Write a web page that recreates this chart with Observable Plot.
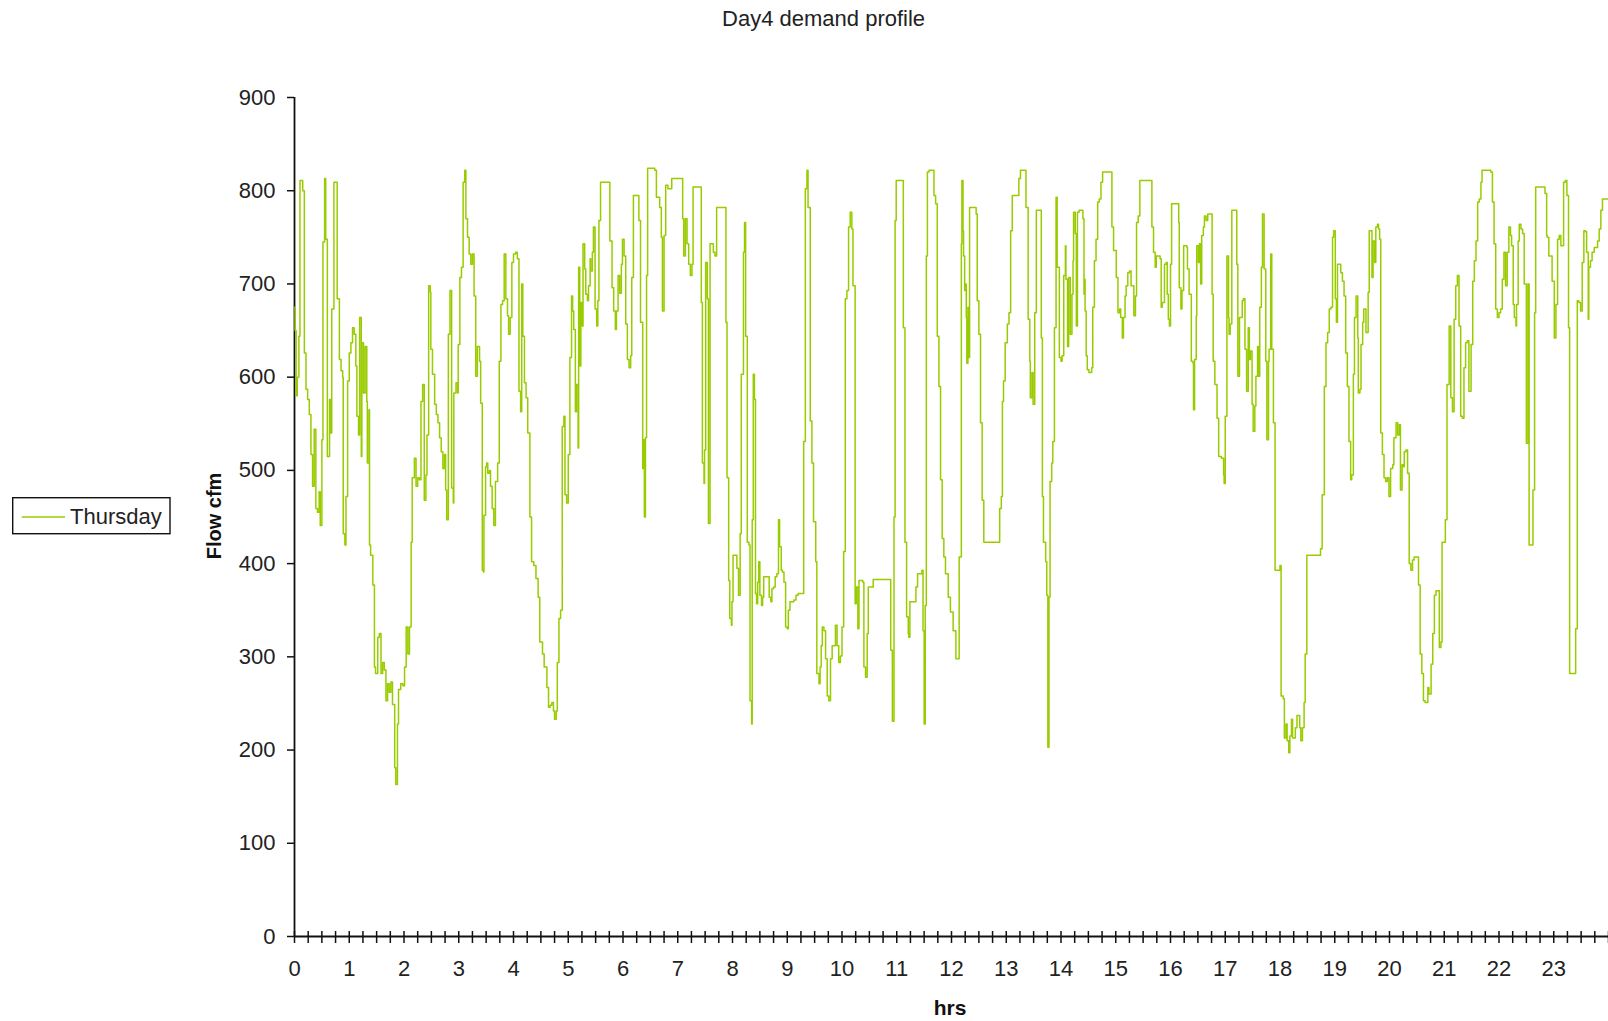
<!DOCTYPE html>
<html>
<head>
<meta charset="utf-8">
<script src="https://cdn.jsdelivr.net/npm/d3@7"></script>
<script src="https://cdn.jsdelivr.net/npm/@observablehq/plot@0.6"></script>
<style>
  html, body { margin: 0; padding: 0; background: #ffffff; }
  #chart { position: relative; width: 1608px; height: 1021px; overflow: hidden; background: #ffffff; }
</style>
</head>
<body>
<div id="chart"></div>
<script>
const chartTitle = "Day4 demand profile";
const seriesName = "Thursday";
const yTitle = "Flow cfm";
const xTitle = "hrs";

const hourTicks = [0,1,2,3,4,5,6,7,8,9,10,11,12,13,14,15,16,17,18,19,20,21,22,23];
const flowTicks = [0,100,200,300,400,500,600,700,800,900];
const quarterTicks = d3.range(0, 24.001, 0.25);

// time of each reading (hours) and the flow (cfm) held from that time on
const hours = [
  0.00,0.01,0.03,0.05,0.08,0.10,0.15,0.18,0.21,0.24,
  0.27,0.30,0.33,0.36,0.39,0.42,0.45,0.47,0.50,0.52,
  0.55,0.57,0.60,0.64,0.66,0.68,0.72,0.78,0.82,0.85,
  0.88,0.89,0.92,0.94,0.97,1.00,1.03,1.06,1.09,1.12,
  1.14,1.17,1.19,1.22,1.23,1.26,1.29,1.32,1.33,1.36,
  1.37,1.39,1.43,1.46,1.48,1.52,1.55,1.58,1.61,1.64,
  1.67,1.70,1.73,1.76,1.79,1.83,1.85,1.88,1.90,1.94,
  1.98,2.01,2.04,2.07,2.10,2.13,2.15,2.19,2.22,2.25,
  2.28,2.31,2.34,2.37,2.40,2.42,2.45,2.48,2.49,2.52,
  2.56,2.59,2.62,2.65,2.68,2.71,2.74,2.76,2.78,2.81,
  2.84,2.87,2.90,2.91,2.95,2.98,2.99,3.02,3.05,3.08,
  3.11,3.13,3.16,3.19,3.22,3.25,3.28,3.31,3.34,3.38,
  3.40,3.43,3.45,3.46,3.49,3.51,3.53,3.56,3.58,3.61,
  3.64,3.67,3.71,3.74,3.77,3.80,3.83,3.86,3.89,3.91,
  3.94,3.97,4.00,4.04,4.07,4.10,4.13,4.15,4.17,4.20,
  4.23,4.26,4.30,4.33,4.37,4.41,4.45,4.48,4.53,4.56,
  4.61,4.64,4.67,4.70,4.73,4.75,4.78,4.80,4.83,4.86,
  4.89,4.92,4.94,4.97,5.00,5.03,5.06,5.08,5.10,5.13,
  5.15,5.18,5.19,5.21,5.23,5.25,5.27,5.30,5.32,5.35,
  5.37,5.40,5.41,5.44,5.46,5.49,5.52,5.54,5.56,5.59,
  5.76,5.80,5.83,5.86,5.88,5.91,
  5.94,5.97,5.99,6.02,6.05,6.08,6.11,6.14,6.16,6.19,
  6.29,6.32,6.36,6.37,6.39,6.41,6.43,6.45,6.58,6.61,
  6.67,6.70,6.72,6.75,6.78,6.82,6.89,7.09,7.11,7.14,
  7.17,7.20,7.23,7.26,7.28,7.43,7.45,7.48,7.49,7.51,
  7.54,7.56,7.59,7.65,7.68,7.71,7.88,7.90,7.93,7.95,
  7.98,7.99,8.01,8.08,8.11,8.14,8.16,8.20,8.22,8.24,
  8.27,8.30,8.32,8.35,8.36,8.38,8.40,8.42,8.44,8.46,
  8.48,8.50,8.53,8.55,8.57,8.64,8.67,8.70,8.72,8.75,
  8.78,8.81,8.84,8.86,8.89,8.91,8.94,8.97,9.00,9.02,
  9.05,9.12,9.16,9.20,9.30,9.33,9.36,9.38,9.42,9.45,
  9.48,9.52,9.54,9.58,9.60,9.62,9.64,9.67,9.70,9.73,
  9.76,9.79,9.82,9.88,9.91,9.94,9.97,10.00,10.03,10.06,
  10.09,10.12,10.15,10.18,10.20,10.24,10.26,10.29,10.31,10.38,
  10.40,10.43,10.46,10.48,10.57,10.89,10.92,10.95,10.97,10.99,
  11.12,11.15,11.18,11.21,11.22,11.24,11.35,11.38,11.46,11.48,
  11.50,11.52,11.54,11.56,11.59,11.68,11.71,11.74,11.77,11.80,
  11.83,11.86,11.89,11.94,11.98,12.03,12.08,12.14,
  12.18,12.19,12.21,12.22,12.24,12.26,12.27,12.28,12.30,12.32,
  12.33,12.45,12.47,12.50,12.53,12.56,12.59,12.88,12.91,12.93,
  12.95,12.98,13.02,13.05,13.08,13.11,13.23,13.26,13.36,13.40,
  13.43,13.44,13.47,13.49,13.52,13.55,13.64,13.66,13.68,13.72,
  13.74,13.76,13.78,13.80,13.83,13.85,13.88,13.91,13.93,13.97,
  14.00,14.02,14.05,14.08,14.09,14.12,14.14,14.17,14.20,14.22,
  14.23,14.26,14.28,14.30,14.33,14.40,14.42,14.43,14.44,14.46,
  14.48,14.51,14.56,14.58,14.61,14.64,14.67,14.70,14.73,14.76,
  14.93,14.96,15.01,15.04,15.07,15.09,15.12,15.14,15.17,15.19,
  15.22,
  15.25,15.28,15.33,15.36,15.38,15.41,15.44,15.66,15.69,15.72,
  15.74,15.81,15.83,15.85,15.89,15.92,15.94,15.96,15.98,16.00,
  16.02,16.15,16.16,16.19,16.21,16.24,16.30,16.31,16.34,16.38,
  16.41,16.42,16.44,16.47,16.48,16.51,16.53,16.55,16.57,16.60,
  16.62,16.65,16.68,16.76,16.78,16.81,16.85,16.88,16.93,16.97,
  16.98,17.00,17.03,17.06,17.07,17.09,17.12,17.21,17.23,17.26,
  17.31,17.33,17.36,17.39,17.42,17.44,17.46,17.49,17.51,17.54,
  17.56,17.59,17.61,17.63,17.66,17.68,17.71,17.74,17.76,17.79,
  17.80,17.83,17.85,17.88,17.91,18.00,18.02,18.06,18.08,18.11,
  18.13,18.16,18.18,18.21,18.23,18.28,18.31,18.36,
  18.38,18.41,18.44,18.46,18.49,18.74,18.77,18.81,18.84,18.87,
  18.90,18.93,18.96,18.98,19.01,19.03,19.05,19.11,19.14,19.17,
  19.20,19.23,19.26,19.29,19.31,19.34,19.36,19.39,19.42,19.43,
  19.46,19.48,19.51,19.53,19.57,19.61,19.63,19.68,19.70,19.73,
  19.75,19.78,19.80,19.82,19.84,19.87,19.90,19.93,19.96,19.99,
  20.02,20.06,20.08,20.12,20.15,20.18,20.20,20.23,20.25,20.27,
  20.30,20.33,20.36,20.39,20.42,20.45,20.53,20.56,20.59,20.62,
  20.65,20.70,20.72,20.76,20.79,20.82,20.85,20.91,
  20.94,20.96,21.02,21.05,21.09,21.12,21.15,21.18,21.21,21.24,
  21.27,21.30,21.33,21.36,21.39,21.42,21.45,21.49,21.52,21.55,
  21.58,21.61,21.64,21.67,21.69,21.85,21.88,21.91,21.94,21.97,
  22.00,22.03,22.06,22.09,22.12,22.15,22.18,22.21,22.23,22.26,
  22.28,22.31,22.32,22.35,22.37,22.40,22.43,22.46,22.50,22.53,
  22.55,22.62,22.65,22.67,22.84,22.87,22.88,22.91,22.97,23.01,
  23.04,23.07,23.10,23.13,23.18,23.21,23.24,23.27,23.29,23.40,
  23.43,23.46,23.49,23.52,23.55,23.58,23.60,23.63,23.64,23.67,
  23.70,23.74,23.80,23.83,23.86,23.89,23.95,23.98
];

const flow = [
  675,650,580,600,644,811,800,626,587,576,
  560,517,483,544,459,455,477,441,533,745,
  813,748,515,576,540,673,809,684,619,607,
  600,432,420,472,596,626,637,653,646,612,
  558,538,664,515,637,583,633,574,508,565,
  420,409,377,289,282,321,325,282,294,286,
  253,271,262,273,249,181,163,228,265,271,
  269,289,332,303,332,423,492,513,483,492,
  490,574,592,468,495,538,698,691,630,603,
  571,560,551,535,520,502,517,479,447,646,
  693,481,465,583,594,583,635,707,718,809,
  822,770,750,732,721,732,687,601,633,617,
  572,393,391,452,504,508,497,500,483,459,
  441,488,508,617,678,682,732,684,666,646,
  664,723,732,734,727,585,563,700,644,594,
  578,540,450,402,398,384,364,316,303,289,
  267,246,248,251,242,233,242,294,341,350,
  547,558,474,465,517,621,687,671,651,563,
  592,524,718,612,680,655,743,716,689,682,
  698,727,714,734,761,673,655,682,768,809,
  746,696,671,651,671,709,
  690,721,748,730,657,619,610,623,707,795,
  768,659,502,533,450,535,709,824,822,793,
  782,750,671,752,806,802,813,770,730,770,
  743,721,709,721,804,680,508,486,522,723,
  684,443,743,734,730,782,659,492,382,341,
  334,359,409,395,366,432,603,734,766,644,
  423,420,253,228,447,603,576,368,357,380,
  402,366,355,364,386,386,364,359,373,375,
  386,389,447,418,393,391,380,332,330,350,
  359,361,366,368,531,802,822,782,553,508,
  445,402,282,271,289,312,332,328,298,258,
  253,298,312,334,312,294,301,332,413,684,
  693,761,777,759,698,357,375,330,382,380,
  289,278,325,375,383,307,231,450,768,811,
  653,423,343,325,321,359,375,389,393,328,
  228,355,730,820,822,795,786,644,590,490,
  427,407,389,364,348,328,298,407,
  743,811,757,730,693,700,664,615,675,621,
  782,775,682,646,551,468,423,459,472,574,
  596,637,657,669,757,795,813,822,782,662,
  617,578,605,571,669,779,642,472,423,402,
  366,203,364,488,508,531,653,793,718,621,
  617,623,709,741,705,633,707,646,689,725,
  777,754,655,777,779,770,689,705,671,623,
  608,605,610,675,725,748,788,791,809,820,
  761,736,707,669,673,664,642,664,687,698,
  712,
  714,698,666,687,766,773,811,761,734,718,
  730,727,675,680,721,723,689,662,655,721,
  786,766,696,673,693,741,739,716,689,617,
  615,565,619,666,741,723,743,700,752,761,
  773,768,775,689,617,592,556,515,513,495,
  486,558,730,664,646,657,779,721,601,664,
  682,684,630,585,653,619,628,571,542,569,
  601,633,601,675,718,775,716,617,533,617,
  630,732,630,551,393,398,258,255,213,228,
  210,197,215,233,213,224,237,224,
  210,224,251,303,409,416,474,590,637,648,
  673,675,750,757,684,659,721,712,703,687,
  626,590,531,490,495,603,664,687,642,583,
  587,635,659,673,648,691,757,707,746,723,
  761,764,759,748,540,517,492,488,492,472,
  502,506,535,551,538,549,479,506,504,520,
  522,497,400,393,404,407,377,303,282,253,
  251,267,260,292,325,366,371,310,
  316,423,447,592,655,578,563,662,698,709,
  655,558,556,610,637,639,585,635,703,725,
  746,788,791,809,822,820,788,743,673,664,
  669,673,705,734,698,734,761,752,741,678,
  664,655,678,746,764,759,754,700,529,700,
  420,479,669,804,797,752,750,730,703,642,
  678,748,752,741,809,811,795,653,282,330,
  682,680,671,723,757,756,734,662,718,725,
  734,739,746,759,779,791,791,791
];

if (hours.length !== flow.length) console.error("length mismatch", hours.length, flow.length);

const rows = hours.map((h, i) => ({hour: h, flow: flow[i]}));
const lineColor = "#99cc00";
const fontFamily = "'Liberation Sans', Arial, Helvetica, sans-serif";

const svg = Plot.plot({
  width: 1608,
  height: 1021,
  marginLeft: 294,
  marginRight: 0,
  marginTop: 97,
  marginBottom: 85,
  style: {fontFamily, fontSize: "22px", color: "#111", background: "#ffffff", overflow: "visible"},
  x: {domain: [0, 24]},
  y: {domain: [0, 900]},
  marks: [
    Plot.axisY(flowTicks, {tickSize: 7, tickPadding: 12, label: null, strokeWidth: 1.5, fill: "#222"}),
    Plot.axisX(hourTicks, {tickSize: 0, tickPadding: 24, label: null, fill: "#222"}),
    Plot.axisX(quarterTicks, {tickSize: 12, dy: -5, tickFormat: () => "", label: null, strokeWidth: 1.5}),
    Plot.ruleX([0], {stroke: "#111", strokeWidth: 1.8}),
    Plot.ruleY([0], {stroke: "#111", strokeWidth: 1.8}),
    Plot.line(rows, {x: "hour", y: "flow", curve: "step-after", stroke: lineColor, strokeWidth: 1.5})
  ]
});

const root = d3.select(svg);

root.append("text")
  .attr("x", 823.6).attr("y", 26)
  .attr("text-anchor", "middle")
  .attr("font-family", fontFamily).attr("font-size", 22)
  .attr("fill", "#222")
  .text(chartTitle);

root.append("text")
  .attr("transform", "translate(221,516) rotate(-90)")
  .attr("text-anchor", "middle")
  .attr("font-family", fontFamily).attr("font-size", 20).attr("font-weight", "bold")
  .attr("fill", "#111")
  .text(yTitle);

root.append("text")
  .attr("x", 950).attr("y", 1015)
  .attr("text-anchor", "middle")
  .attr("font-family", fontFamily).attr("font-size", 21).attr("font-weight", "bold")
  .attr("fill", "#111")
  .text(xTitle);

const legend = root.append("g");
legend.append("rect")
  .attr("x", 12.7).attr("y", 497.7).attr("width", 157.3).attr("height", 36)
  .attr("fill", "#ffffff").attr("stroke", "#111").attr("stroke-width", 1.4);
legend.append("line")
  .attr("x1", 21.7).attr("x2", 65).attr("y1", 517).attr("y2", 517)
  .attr("stroke", lineColor).attr("stroke-width", 1.6);
legend.append("text")
  .attr("x", 70).attr("y", 523.5)
  .attr("text-anchor", "start")
  .attr("font-family", fontFamily).attr("font-size", 22)
  .attr("fill", "#222")
  .text(seriesName);

document.getElementById("chart").appendChild(svg);
</script>
</body>
</html>
